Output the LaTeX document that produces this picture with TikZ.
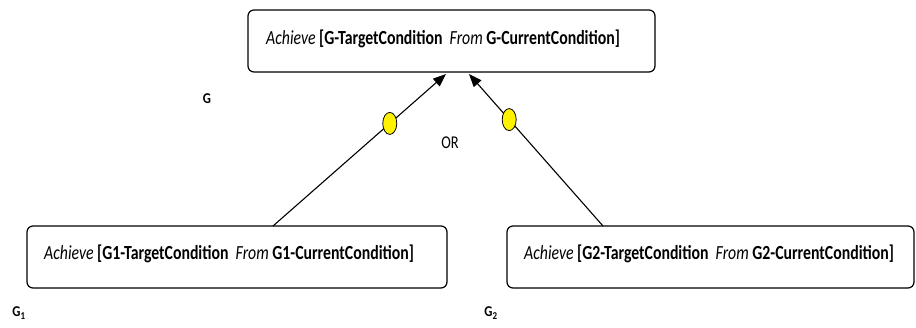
\documentclass[tikz,border=0pt]{standalone}
\usepackage{fontspec}
\setmainfont{Carlito}
\usetikzlibrary{arrows.meta,shapes.geometric,calc}
\tikzset{
  goalbox/.style={draw=black, line width=1.2pt, rounded corners=6pt, fill=white},
  goaltext/.style={inner sep=0pt, anchor=base west, font=\fontsize{20}{24}\selectfont, xscale=0.79},
  glabel/.style={inner sep=0pt, font=\bfseries\fontsize{15}{18}\selectfont, xscale=0.85},
  orlink/.style={line width=1.1pt, -{Triangle[length=13pt,width=10pt]}},
  ordot/.style={ellipse, draw=black, line width=0.8pt, fill=yellow, minimum width=14pt, minimum height=22pt, inner sep=0pt}
}
\newcommand{\goal}[1]{\textit{Achieve} \textbf{[#1-TargetCondition}\ \ \textit{From} \textbf{#1-CurrentCondition]}}
\begin{document}
\begin{tikzpicture}[x=1pt,y=-1pt]
  \useasboundingbox (0,0) rectangle (916,327);
  % goal boxes
  \draw[goalbox] (248,10) rectangle (655,72);
  \node[goaltext] (top) at (266,44) {\goal{G}};
  \draw[goalbox] (27,226) rectangle (447,288);
  \node[goaltext] (g1) at (44,259) {\goal{G1}};
  \draw[goalbox] (507,226) rectangle (914,288);
  \node[goaltext] (g2) at (524,259) {\goal{G2}};
  % anchor points on the box edges
  \coordinate (tipL) at (446,74);
  \coordinate (tipR) at (469,74);
  \coordinate (footL) at (273,226);
  \coordinate (footR) at (603,226);
  % OR-decomposition links
  \draw[orlink] (footL) -- (tipL);
  \draw[orlink] (footR) -- (tipR);
  \node[ordot] (dotL) at ($(footL)!0.675!(tipL)$) {};
  \node[ordot] (dotR) at ($(footR)!0.7!(tipR)$) {};
  % labels
  \node[inner sep=0pt, font=\fontsize{18}{20}\selectfont, xscale=0.8] (or) at (450,143) {OR};
  \node[glabel] (lg) at (207,99) {G};
  \node[glabel] (lg1) at (19,313) {G\textsubscript{1}};
  \node[glabel] (lg2) at (491,313) {G\textsubscript{2}};
\end{tikzpicture}
\end{document}
